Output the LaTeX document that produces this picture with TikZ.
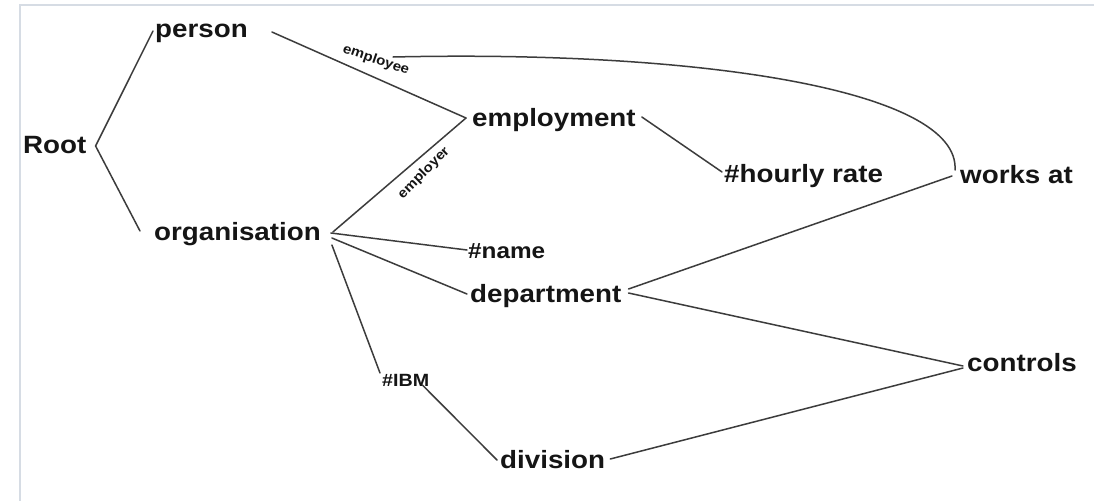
\documentclass[tikz,border=0pt]{standalone}
\usepackage{fontspec}
\setmainfont{Liberation Sans}[FakeStretch=1.11]
\usetikzlibrary{calc}
\definecolor{ink}{HTML}{151515}
\definecolor{wire}{HTML}{3C3C3C}
\definecolor{frame}{HTML}{D6DCE4}
\begin{document}
\begin{tikzpicture}[x=1pt,y=-1pt,
  concept/.style={anchor=base west,inner sep=0pt,text=ink,font=\bfseries\fontsize{25}{25}\selectfont},
  attr/.style={anchor=base west,inner sep=0pt,text=ink,font=\bfseries\fontsize{21.9}{22}\selectfont},
  tag/.style={anchor=base west,inner sep=0pt,text=ink,font=\bfseries\fontsize{17.7}{18}\selectfont},
  role/.style={inner sep=0pt,text=ink,font=\bfseries\fontsize{13.5}{14}\selectfont},
  link/.style={draw=wire,line width=1.5pt,line cap=round,line join=round}]
\useasboundingbox (0,0) rectangle (1094,501);
\fill[white] (0,0) rectangle (1094,501);
% frame along top and left edges
\draw[frame,line width=2pt] (1094,5) -- (20,5) -- (20,501);

% concepts
\node[concept] (root) at (23,153) {Root};
\node[concept] (person) at (155,37) {person};
\node[concept] (org) at (154,240) {organisation};
\node[concept] (employment) at (472,126) {employment};
\node[concept] (rate) at (724,182) {\#hourly rate};
\node[concept] (works) at (960,183) {works at};
\node[attr] (name) at (468,258) {\#name};
\node[concept] (dept) at (470,302) {department};
\node[tag] (ibm) at (382,386) {\#IBM};
\node[concept] (division) at (500,468) {division};
\node[concept] (controls) at (967,371) {controls};

% role labels
\node[role,rotate=-19] (employee) at (376,60) {employee};
\node[role,rotate=45] (employer) at (424,173) {employer};

% connectors
\draw[link] ($(person.base west)+(-2,-6)$) -- ($(root.base east)+(9,-7)$) -- ($(org.base west)+(-14,-9)$);
\draw[link] ($(person.base east)+(24,-5)$) -- ($(employment.base west)+(-6,-8)$);
\draw[link] ($(org.base east)+(12,-8)$) -- ($(employment.base west)+(-6,-8)$);
\draw[link] ($(employment.base east)+(6,-9)$) -- ($(rate.base west)+(-2,-10)$);
\draw[link] ($(employee.center)+(17,-3)$) .. controls (700,50) and (960,90) .. ($(works.base west)+(-5,-13)$);
\draw[link] ($(works.base west)+(-8,-7)$) -- ($(dept.base east)+(7,-13)$);
\draw[link] ($(org.base east)+(10,-7)$) -- ($(name.base west)+(-1,-8)$);
\draw[link] ($(org.base east)+(11,-2)$) -- ($(dept.base west)+(-3,-8)$);
\draw[link] ($(org.base east)+(11,5)$) -- ($(ibm.base west)+(-2,-13)$);
\draw[link] ($(ibm.base east)+(-7,-1)$) -- ($(division.base west)+(-3,-8)$);
\draw[link] ($(dept.base east)+(7,-9)$) -- ($(controls.base west)+(-4,-5)$);
\draw[link] ($(division.base east)+(5,-9)$) -- ($(controls.base west)+(-4,-3)$);
\end{tikzpicture}
\end{document}
